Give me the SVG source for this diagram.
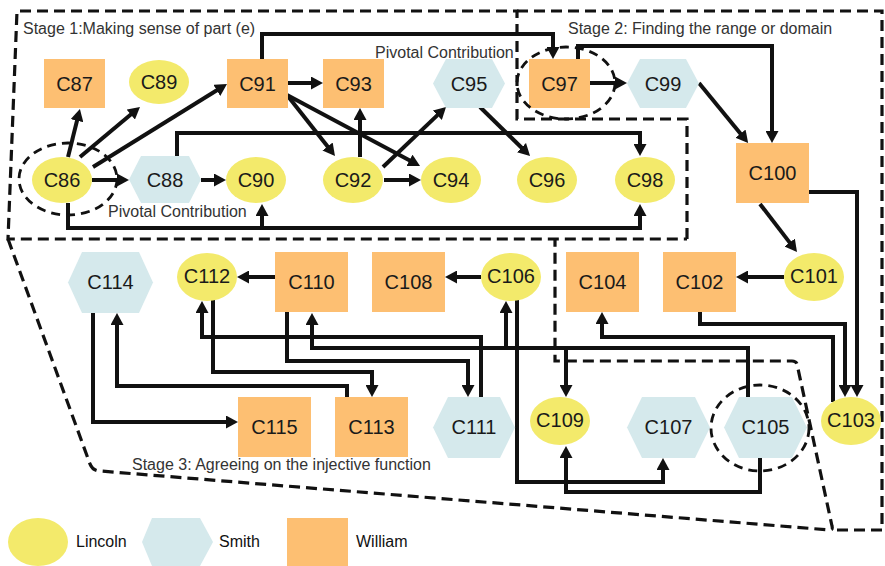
<svg xmlns="http://www.w3.org/2000/svg" width="885" height="566" viewBox="0 0 885 566">
  <style>
    .stage { fill: none; stroke: #111; stroke-width: 3.2; stroke-dasharray: 11 6; }
    .pivot { fill: none; stroke: #111; stroke-width: 2.8; stroke-dasharray: 9 6; }
    .edge { fill: none; stroke: #111; stroke-width: 4; stroke-linejoin: miter; marker-end: url(#arr); }
    .lincoln { fill: #F3EA6B; }
    .smith { fill: #D5E9EC; }
    .william { fill: #FDBF72; }
    .lbl { font-family: "Liberation Sans", Arial, sans-serif; font-size: 20px; fill: #1a1a1a; text-anchor: middle; }
    .note { font-family: "Liberation Sans", Arial, sans-serif; font-size: 16px; fill: #333; }
    .legend { font-family: "Liberation Sans", Arial, sans-serif; font-size: 16px; fill: #111; }
  </style>
  <defs>
    <marker id="arr" viewBox="0 0 12 13" refX="2" refY="6.5" markerWidth="12" markerHeight="13" markerUnits="userSpaceOnUse" orient="auto">
      <path d="M0,0 L12,6.5 L0,13 Z" fill="#111"/>
    </marker>
  </defs>

  <!-- stage boundaries -->
  <g id="stages">
    <path class="stage" d="M687,239 V119 H517 V11 H17 L8,239 H687"/>
    <path class="stage" d="M517,11 H882 V530 H833"/>
    <path class="stage" d="M8,239 L90,464 Q93,471 100,471 L830,530 Q833,530 832,526 L797,364 Q796,361 792,361 H555 V239"/>
    <text class="note" x="23" y="34">Stage 1:Making sense of part (e)</text>
    <text class="note" x="568" y="34">Stage 2: Finding the range or domain</text>
    <text class="note" x="132" y="470">Stage 3: Agreeing on the injective function</text>
    <text class="note" x="375" y="58">Pivotal Contribution</text>
    <text class="note" x="108" y="217">Pivotal Contribution</text>
  </g>

  <!-- connectors -->
  <g id="connectors">
    <path class="edge" d="M68,157 L77.5,118.7"/>
    <path class="edge" d="M80,157 L132.3,113.3"/>
    <path class="edge" d="M93,167 L218.5,89.3"/>
    <path class="edge" d="M92,180 H119"/>
    <path class="edge" d="M201,180 H216"/>
    <path class="edge" d="M68,203 V228 H640 V214"/>
    <path class="edge" d="M262,228 V214"/>
    <path class="edge" d="M177,156 V133 H640 V146"/>
    <path class="edge" d="M262,59 V34 H553 V49"/>
    <path class="edge" d="M288,83 H313"/>
    <path class="edge" d="M287,95 L328.8,148.1"/>
    <path class="edge" d="M287,95 L411.2,161.3"/>
    <path class="edge" d="M360,157 V118"/>
    <path class="edge" d="M384,180 H411"/>
    <path class="edge" d="M383,167 L438.8,113.9"/>
    <path class="edge" d="M480,107 L522.9,149"/>
    <path class="edge" d="M590,83 H617"/>
    <path class="edge" d="M578,59 V46 H772 V133"/>
    <path class="edge" d="M699,83 L741.8,135.2"/>
    <path class="edge" d="M760,204 L790.9,244.1"/>
    <path class="edge" d="M809,192 H857 V387"/>
    <path class="edge" d="M784,277 H746"/>
    <path class="edge" d="M700,312 V324 H845 V387"/>
    <path class="edge" d="M833,402 V337 H602 V322"/>
    <path class="edge" d="M481,277 H455"/>
    <path class="edge" d="M275,277 H247"/>
    <path class="edge" d="M748,397 V348 H312 V323"/>
    <path class="edge" d="M506,348 V311"/>
    <path class="edge" d="M566,348 V387"/>
    <path class="edge" d="M481,397 V337 H202 V311"/>
    <path class="edge" d="M287,312 V361 H468 V387"/>
    <path class="edge" d="M213,300 V372 H372 V387"/>
    <path class="edge" d="M347,397 V386 H117 V323"/>
    <path class="edge" d="M93,313 V422 H228"/>
    <path class="edge" d="M517,300 V482 H663 V468"/>
    <path class="edge" d="M760,458 V492 H566 V456"/>
  </g>

  <!-- Stage 1 nodes -->
  <g id="C86"><ellipse class="lincoln" cx="62" cy="180" rx="30" ry="23"/><text class="lbl" x="62" y="187">C86</text></g>
  <g id="C87"><rect class="william" x="44" y="59" width="61" height="49"/><text class="lbl" x="74.5" y="90.5">C87</text></g>
  <g id="C88"><polygon class="smith" points="129,179.5 141,156 189,156 201,179.5 189,203 141,203"/><text class="lbl" x="165" y="187">C88</text></g>
  <g id="C89"><ellipse class="lincoln" cx="159" cy="82" rx="30" ry="22"/><text class="lbl" x="159" y="89">C89</text></g>
  <g id="C90"><ellipse class="lincoln" cx="256" cy="180" rx="30" ry="23"/><text class="lbl" x="256" y="187">C90</text></g>
  <g id="C91"><rect class="william" x="227" y="59" width="61" height="49"/><text class="lbl" x="257.5" y="90.5">C91</text></g>
  <g id="C92"><ellipse class="lincoln" cx="353" cy="180" rx="30" ry="23"/><text class="lbl" x="353" y="187">C92</text></g>
  <g id="C93"><rect class="william" x="323" y="59" width="61" height="49"/><text class="lbl" x="353.5" y="90.5">C93</text></g>
  <g id="C94"><ellipse class="lincoln" cx="451" cy="180" rx="30" ry="23"/><text class="lbl" x="451" y="187">C94</text></g>
  <g id="C95"><polygon class="smith" points="433,83.5 446,59 492,59 505,83.5 492,108 446,108"/><text class="lbl" x="469" y="90.5">C95</text></g>
  <g id="C96"><ellipse class="lincoln" cx="547" cy="180" rx="30" ry="23"/><text class="lbl" x="547" y="187">C96</text></g>
  <g id="C98"><ellipse class="lincoln" cx="645" cy="180" rx="30" ry="23"/><text class="lbl" x="645" y="187">C98</text></g>

  <!-- Stage 2 nodes -->
  <g id="C97"><rect class="william" x="529" y="59" width="61" height="49"/><text class="lbl" x="559.5" y="90.5">C97</text></g>
  <g id="C99"><polygon class="smith" points="627,83.5 640,59 686,59 699,83.5 686,108 640,108"/><text class="lbl" x="663" y="90.5">C99</text></g>
  <g id="C100"><rect class="william" x="736" y="143" width="73" height="60"/><text class="lbl" x="772.5" y="180">C100</text></g>
  <g id="C101"><ellipse class="lincoln" cx="814" cy="277" rx="30" ry="24"/><text class="lbl" x="814" y="283">C101</text></g>
  <g id="C102"><rect class="william" x="663" y="252" width="73" height="60"/><text class="lbl" x="699.5" y="289">C102</text></g>
  <g id="C103"><ellipse class="lincoln" cx="851" cy="421" rx="30" ry="24"/><text class="lbl" x="851" y="427">C103</text></g>
  <g id="C104"><rect class="william" x="566" y="252" width="73" height="60"/><text class="lbl" x="602.5" y="289">C104</text></g>

  <!-- Stage 3 nodes -->
  <g id="C105"><polygon class="smith" points="724,427.5 739,397 792,397 807,427.5 792,458 739,458"/><text class="lbl" x="765.5" y="434">C105</text></g>
  <g id="C106"><ellipse class="lincoln" cx="511" cy="277" rx="30" ry="24"/><text class="lbl" x="511" y="283">C106</text></g>
  <g id="C107"><polygon class="smith" points="627,427.5 642,397 695,397 710,427.5 695,458 642,458"/><text class="lbl" x="668.5" y="434">C107</text></g>
  <g id="C108"><rect class="william" x="372" y="252" width="73" height="60"/><text class="lbl" x="408.5" y="289">C108</text></g>
  <g id="C109"><ellipse class="lincoln" cx="560" cy="421" rx="30" ry="24"/><text class="lbl" x="560" y="427">C109</text></g>
  <g id="C110"><rect class="william" x="275" y="252" width="73" height="60"/><text class="lbl" x="311.5" y="289">C110</text></g>
  <g id="C111"><polygon class="smith" points="433,427.5 448,397 500,397 515,427.5 500,458 448,458"/><text class="lbl" x="474" y="434">C111</text></g>
  <g id="C112"><ellipse class="lincoln" cx="207" cy="277" rx="30" ry="24"/><text class="lbl" x="207" y="283">C112</text></g>
  <g id="C113"><rect class="william" x="335" y="397" width="73" height="60"/><text class="lbl" x="371.5" y="434">C113</text></g>
  <g id="C114"><polygon class="smith" points="68,282.5 82,252 139,252 153,282.5 139,313 82,313"/><text class="lbl" x="110.5" y="289">C114</text></g>
  <g id="C115"><rect class="william" x="238" y="397" width="73" height="60"/><text class="lbl" x="274.5" y="434">C115</text></g>

  <!-- pivotal contribution markers -->
  <g id="pivots">
    <ellipse class="pivot" cx="68" cy="179" rx="49" ry="36"/>
    <ellipse class="pivot" cx="566" cy="83" rx="49" ry="36"/>
    <ellipse class="pivot" cx="760" cy="428" rx="49" ry="43"/>
  </g>

  <!-- legend -->
  <g id="legend">
    <ellipse class="lincoln" cx="38" cy="542" rx="30" ry="24"/>
    <text class="legend" x="76" y="547">Lincoln</text>
    <polygon class="smith" points="142,542 152,518 200,518 213,542 200,566 152,566"/>
    <text class="legend" x="219" y="547">Smith</text>
    <rect class="william" x="287" y="518" width="61" height="48"/>
    <text class="legend" x="356" y="547">William</text>
  </g>
</svg>
